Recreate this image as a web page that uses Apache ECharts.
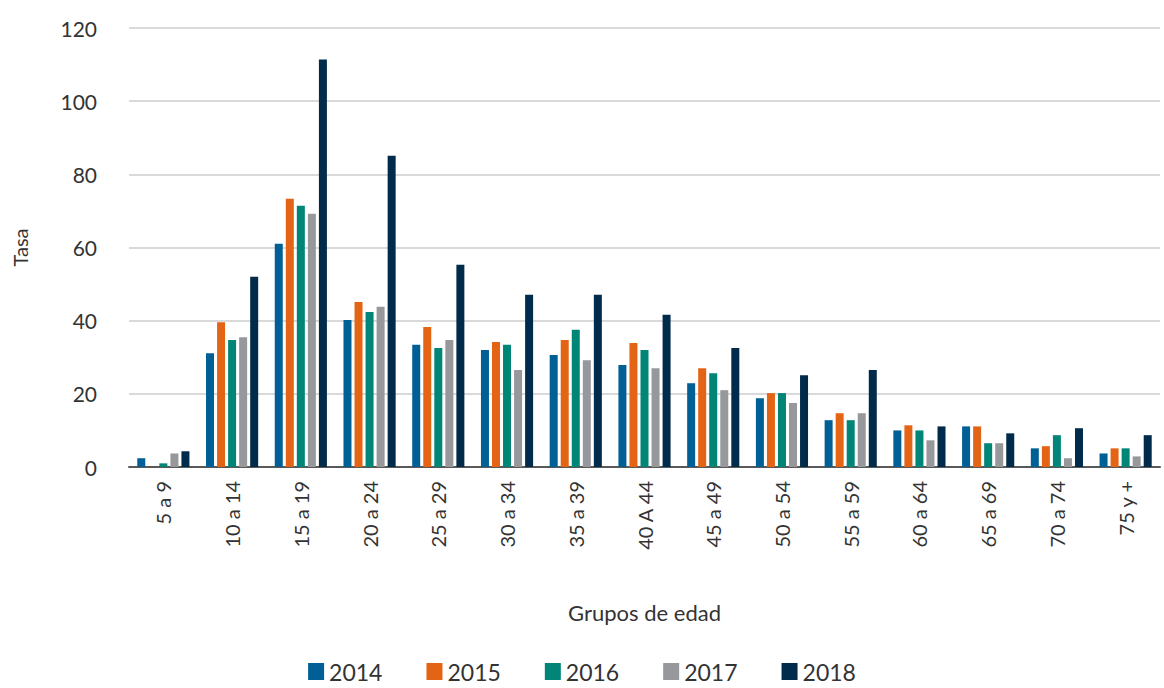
<!DOCTYPE html>
<html>
<head>
<meta charset="utf-8">
<script src="https://cdn.jsdelivr.net/npm/echarts@6/dist/echarts.min.js"></script>
<style>
	html, body { margin: 0; padding: 0; background: #fff; }
	#main { width: 1164px; height: 688px; }
</style>
</head>
<body>
<div id="main"></div>
<script type="text/javascript">
	// grupos de edad
	var grupos = ['5 a 9', '10 a 14', '15 a 19', '20 a 24', '25 a 29', '30 a 34', '35 a 39', '40 A 44',
		'45 a 49', '50 a 54', '55 a 59', '60 a 64', '65 a 69', '70 a 74', '75 y +'];
	var anios = ['2014', '2015', '2016', '2017', '2018'];
	var colores = ['#005F94', '#E36414', '#008577', '#97989C', '#002B4A'];

	// tasas por año
	var tasa2014 = [2.4, 31.1, 61.0, 40.2, 33.4, 32.0, 30.6, 27.9, 22.9, 18.8, 12.8, 10.0, 11.1, 5.1, 3.7];
	var tasa2015 = [0, 39.6, 73.3, 45.1, 38.3, 34.2, 34.7, 33.9, 27.0, 20.2, 14.7, 11.4, 11.1, 5.7, 5.1];
	var tasa2016 = [1.0, 34.7, 71.4, 42.4, 32.5, 33.4, 37.5, 32.0, 25.6, 20.2, 12.8, 10.0, 6.5, 8.7, 5.1];
	var tasa2017 = [3.7, 35.5, 69.2, 43.8, 34.7, 26.5, 29.2, 27.0, 21.0, 17.5, 14.7, 7.3, 6.5, 2.4, 2.9];
	var tasa2018 = [4.3, 52.0, 111.4, 85.1, 55.3, 47.1, 47.1, 41.6, 32.5, 25.1, 26.5, 11.1, 9.2, 10.6, 8.7];
	var tasas = [tasa2014, tasa2015, tasa2016, tasa2017, tasa2018];

	var fuente = 'Lato, "Open Sans", sans-serif';
	var chart = echarts.init(document.getElementById('main'), null, { renderer: 'svg' });

	var series = [];
	for (var i = 0; i < anios.length; i++) {
		series.push({
			name: anios[i],
			type: 'bar',
			barWidth: 8,
			barGap: '38%',
			itemStyle: { color: colores[i] },
			data: tasas[i]
		});
	}

	chart.setOption({
		animation: false,
		textStyle: { fontFamily: fuente },
		grid: { left: 129, right: 4, top: 28, bottom: 221 },
		legend: {
			data: anios,
			bottom: 0,
			left: 'center',
			itemWidth: 16,
			itemHeight: 17,
			itemGap: 44,
			icon: 'rect',
			textStyle: { fontSize: 23, color: '#333', fontFamily: fuente }
		},
		xAxis: {
			type: 'category',
			data: grupos,
			name: 'Grupos de edad',
			nameLocation: 'middle',
			nameGap: 134,
			nameTextStyle: { fontSize: 22, color: '#333' },
			axisLine: { lineStyle: { color: '#595959', width: 2 } },
			axisTick: { show: false },
			axisLabel: { rotate: 90, fontSize: 20, color: '#333', margin: 14, interval: 0 }
		},
		yAxis: {
			type: 'value',
			min: 0,
			max: 120,
			interval: 20,
			name: 'Tasa',
			nameLocation: 'middle',
			nameGap: 99,
			nameTextStyle: { fontSize: 20, color: '#333' },
			axisLine: { show: false },
			axisTick: { show: false },
			axisLabel: { fontSize: 21, color: '#333', margin: 32 },
			splitLine: { lineStyle: { color: '#d9d9d9', width: 2 } }
		},
		series: series
	});
</script>
</body>
</html>
